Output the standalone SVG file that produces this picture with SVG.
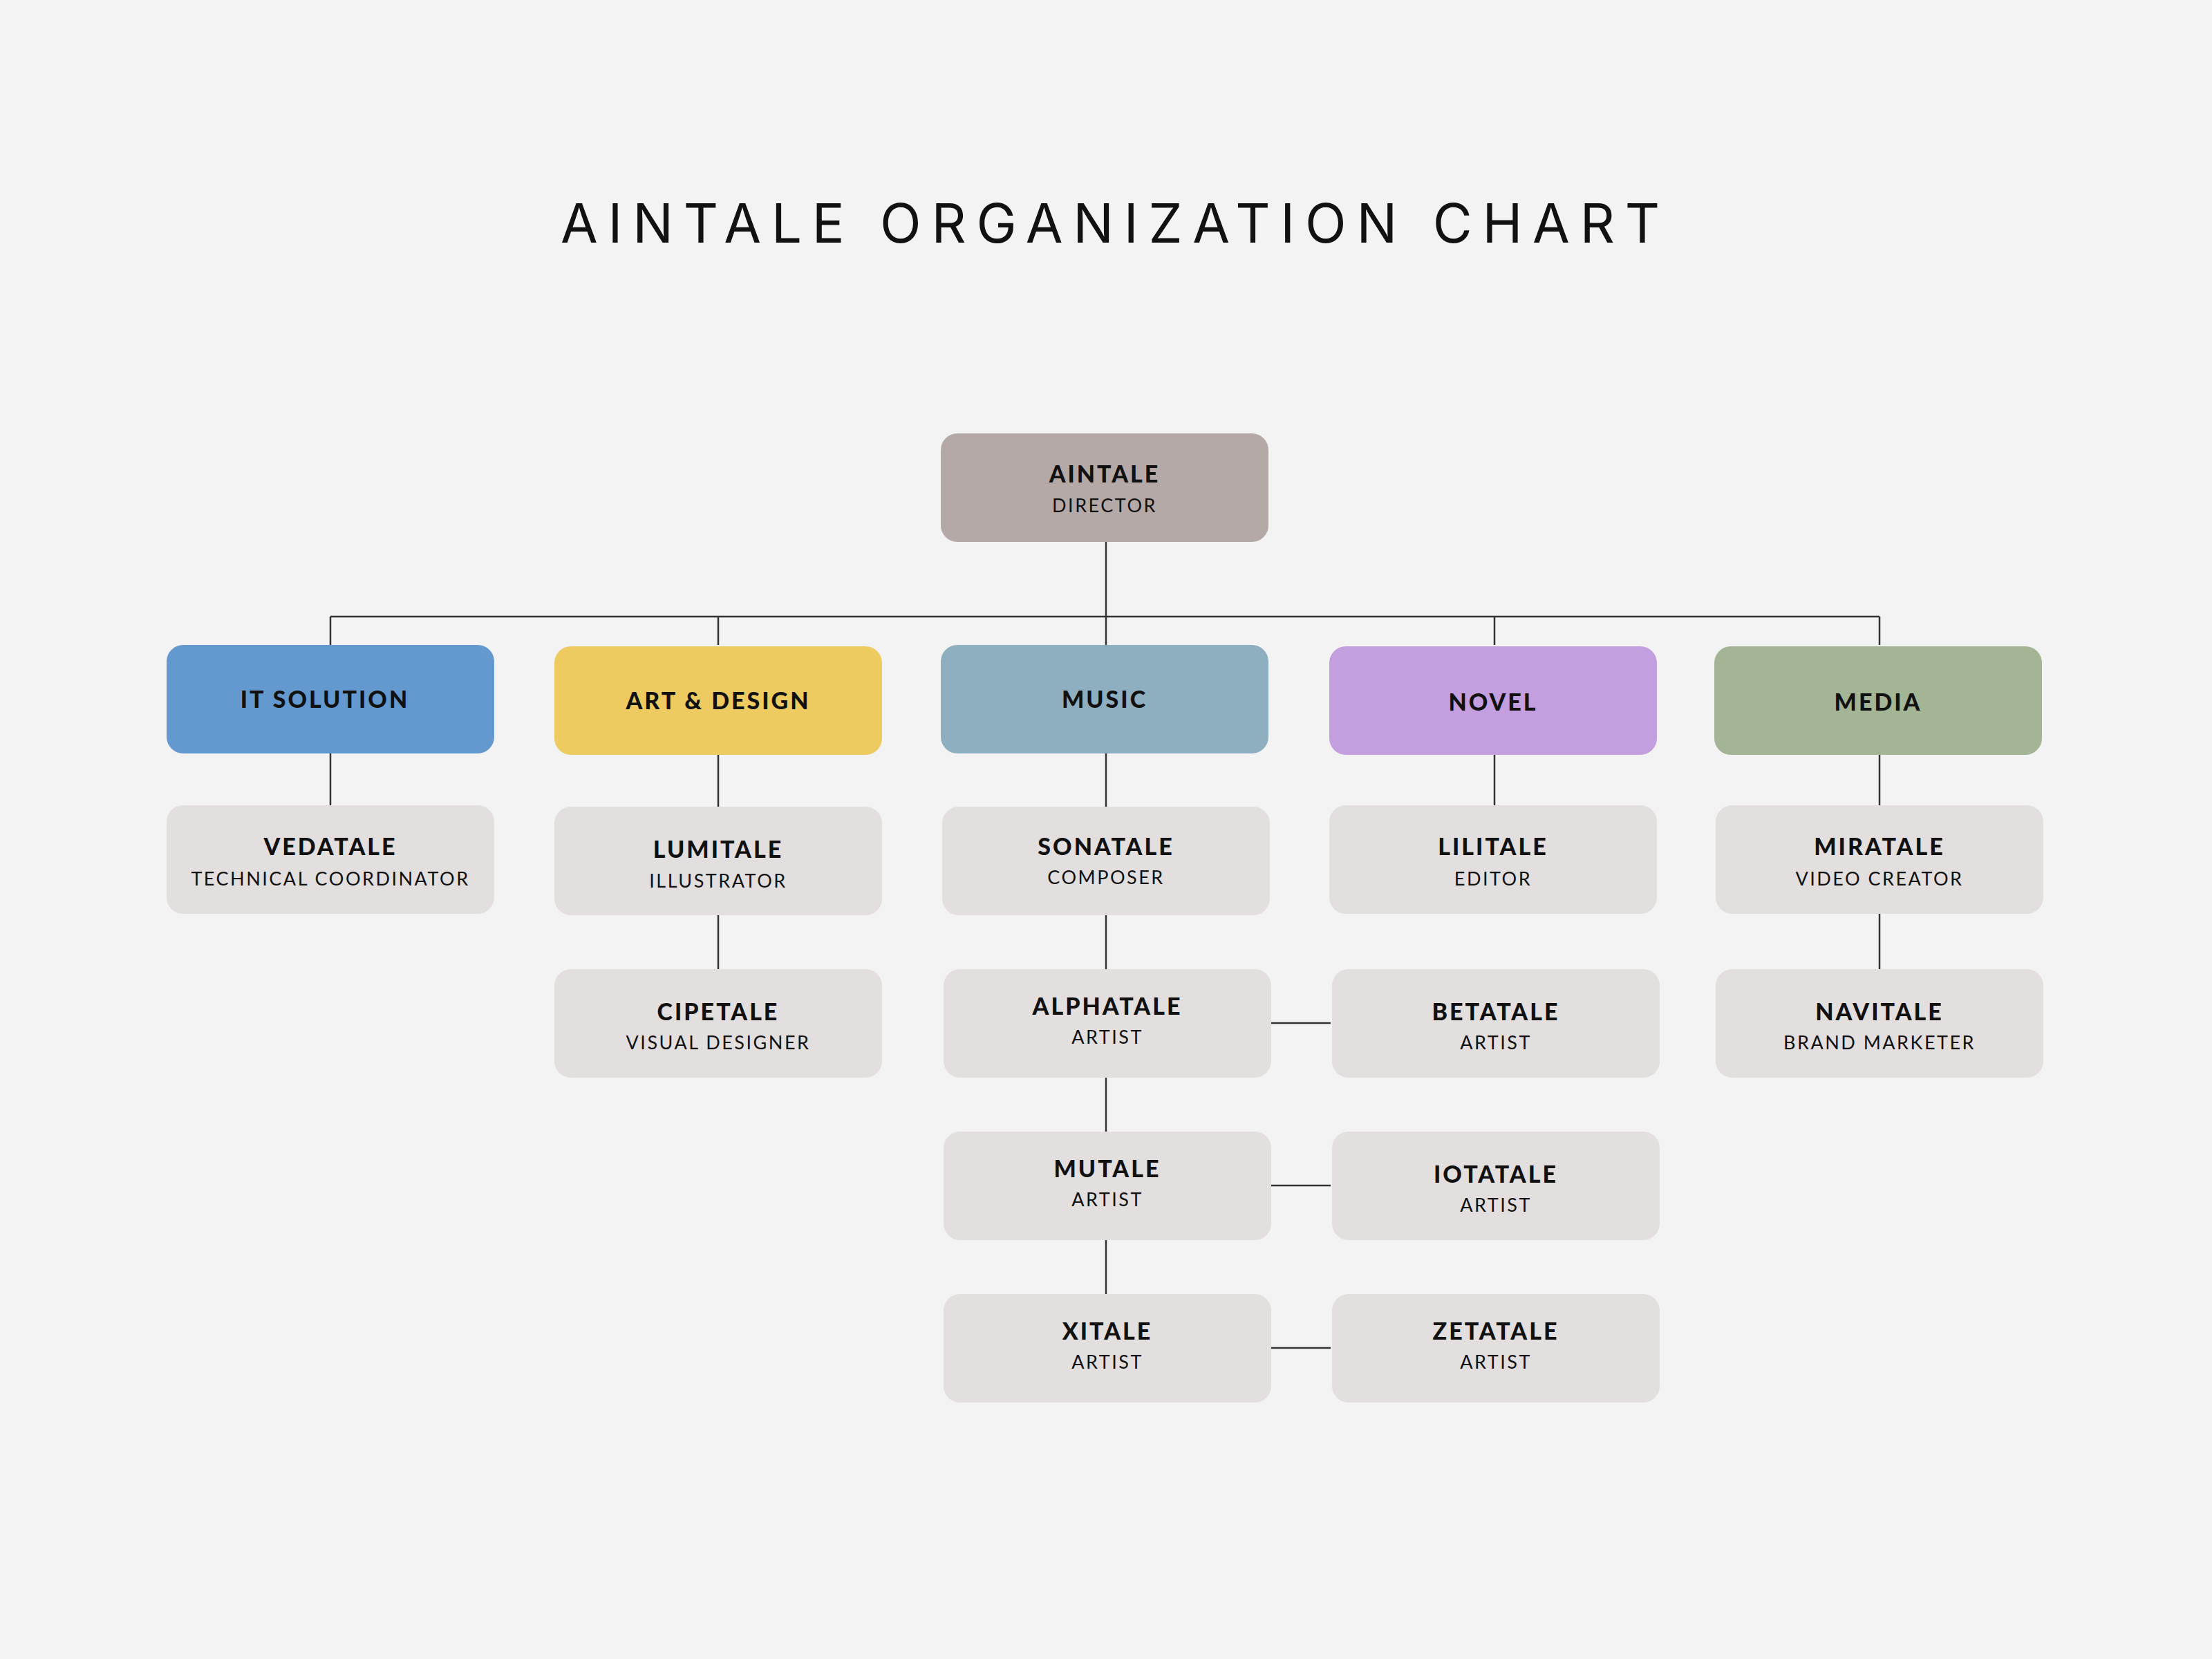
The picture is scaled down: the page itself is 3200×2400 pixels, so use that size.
<svg xmlns="http://www.w3.org/2000/svg" width="3200" height="2400" viewBox="0 0 3200 2400">
<style>
.n rect{stroke:none}
.g{fill:#e2dfde}
.t{font-family:Lato,"Liberation Sans",sans-serif;font-weight:900;font-size:34px;letter-spacing:3px;fill:#111;text-anchor:middle}
.s{font-family:Lato,"Liberation Sans",sans-serif;font-size:27px;letter-spacing:2.5px;fill:#111;text-anchor:middle}
#connectors path{stroke:#333;stroke-width:2.5;fill:none}
</style>
<rect width="3200" height="2400" fill="#f3f3f3"/>
<text x="1606" y="351" font-family="Inter,'Liberation Sans',sans-serif" font-size="78" fill="#111" text-anchor="middle" textLength="1590" lengthAdjust="spacing">AINTALE ORGANIZATION CHART</text>
<g id="connectors">
<path d="M1600 784V933M478 892H2719M478 892V933M1039 892V933M2162 892V933M2719 892V933"/>
<path d="M478 1090V1165M1039 1090V1402M1600 1090V1872M2162 1090V1165M2719 1090V1402"/>
<path d="M1837 1480H1925M1837 1715H1925M1837 1950H1925"/>
</g>
<g id="aintale" class="n"><rect x="1361" y="627" width="474" height="157" rx="24" fill="#b4a9a7"/><text class="t" x="1598" y="698">AINTALE</text><text class="s" x="1598" y="741">DIRECTOR</text></g>
<g id="it" class="n"><rect x="241" y="933" width="474" height="157" rx="24" fill="#6399cf"/><text class="t" x="470" y="1024">IT SOLUTION</text></g>
<g id="art" class="n"><rect x="802" y="935" width="474" height="157" rx="24" fill="#edcb60"/><text class="t" x="1039" y="1026">ART &amp; DESIGN</text></g>
<g id="music" class="n"><rect x="1361" y="933" width="474" height="157" rx="24" fill="#8eafbf"/><text class="t" x="1598" y="1024">MUSIC</text></g>
<g id="novel" class="n"><rect x="1923" y="935" width="474" height="157" rx="24" fill="#c49fdf"/><text class="t" x="2160" y="1028">NOVEL</text></g>
<g id="media" class="n"><rect x="2480" y="935" width="474" height="157" rx="24" fill="#a3b595"/><text class="t" x="2717" y="1028">MEDIA</text></g>
<g id="vedatale" class="n"><rect class="g" x="241" y="1165" width="474" height="157" rx="24"/><text class="t" x="478" y="1237">VEDATALE</text><text class="s" x="478" y="1281">TECHNICAL COORDINATOR</text></g>
<g id="lumitale" class="n"><rect class="g" x="802" y="1167" width="474" height="157" rx="24"/><text class="t" x="1039" y="1241">LUMITALE</text><text class="s" x="1039" y="1284">ILLUSTRATOR</text></g>
<g id="sonatale" class="n"><rect class="g" x="1363" y="1167" width="474" height="157" rx="24"/><text class="t" x="1600" y="1237">SONATALE</text><text class="s" x="1600" y="1279">COMPOSER</text></g>
<g id="lilitale" class="n"><rect class="g" x="1923" y="1165" width="474" height="157" rx="24"/><text class="t" x="2160" y="1237">LILITALE</text><text class="s" x="2160" y="1281">EDITOR</text></g>
<g id="miratale" class="n"><rect class="g" x="2482" y="1165" width="474" height="157" rx="24"/><text class="t" x="2719" y="1237">MIRATALE</text><text class="s" x="2719" y="1281">VIDEO CREATOR</text></g>
<g id="cipetale" class="n"><rect class="g" x="802" y="1402" width="474" height="157" rx="24"/><text class="t" x="1039" y="1476">CIPETALE</text><text class="s" x="1039" y="1518">VISUAL DESIGNER</text></g>
<g id="alphatale" class="n"><rect class="g" x="1365" y="1402" width="474" height="157" rx="24"/><text class="t" x="1602" y="1468">ALPHATALE</text><text class="s" x="1602" y="1510">ARTIST</text></g>
<g id="betatale" class="n"><rect class="g" x="1927" y="1402" width="474" height="157" rx="24"/><text class="t" x="2164" y="1476">BETATALE</text><text class="s" x="2164" y="1518">ARTIST</text></g>
<g id="navitale" class="n"><rect class="g" x="2482" y="1402" width="474" height="157" rx="24"/><text class="t" x="2719" y="1476">NAVITALE</text><text class="s" x="2719" y="1518">BRAND MARKETER</text></g>
<g id="mutale" class="n"><rect class="g" x="1365" y="1637" width="474" height="157" rx="24"/><text class="t" x="1602" y="1703">MUTALE</text><text class="s" x="1602" y="1745">ARTIST</text></g>
<g id="iotatale" class="n"><rect class="g" x="1927" y="1637" width="474" height="157" rx="24"/><text class="t" x="2164" y="1711">IOTATALE</text><text class="s" x="2164" y="1753">ARTIST</text></g>
<g id="xitale" class="n"><rect class="g" x="1365" y="1872" width="474" height="157" rx="24"/><text class="t" x="1602" y="1938">XITALE</text><text class="s" x="1602" y="1980">ARTIST</text></g>
<g id="zetatale" class="n"><rect class="g" x="1927" y="1872" width="474" height="157" rx="24"/><text class="t" x="2164" y="1938">ZETATALE</text><text class="s" x="2164" y="1980">ARTIST</text></g>
</svg>
